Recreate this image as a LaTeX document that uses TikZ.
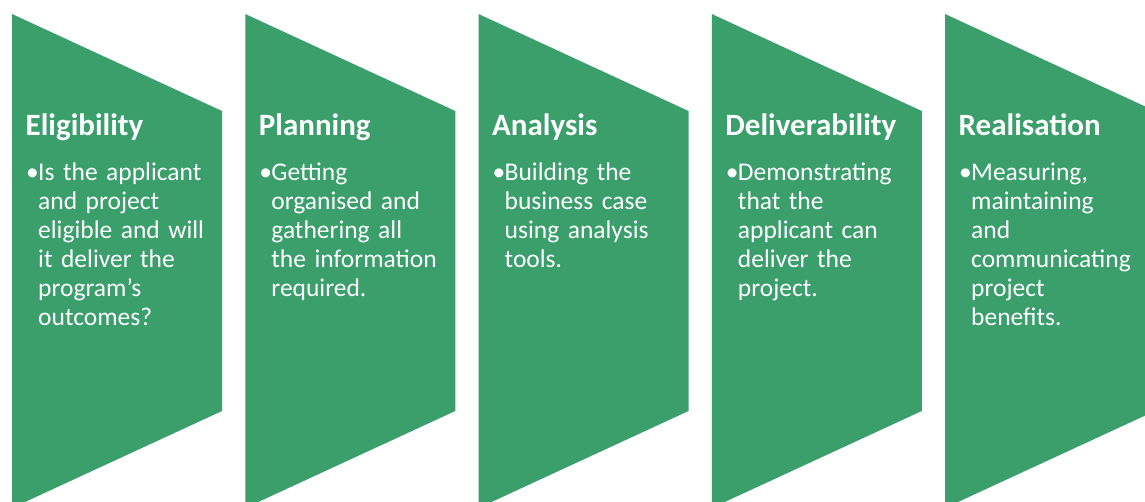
\documentclass[tikz,border=0pt]{standalone}
\usepackage{fontspec}
\setmainfont{Carlito}
\definecolor{stepgreen}{RGB}{58,159,107}
\begin{document}
\begin{tikzpicture}[x=1pt,y=1pt,
  chevron/.style={fill=stepgreen},
  steptitle/.style={anchor=base west,inner sep=0pt,text=white,font=\fontsize{31}{36}\selectfont\bfseries},
  stepbullet/.style={anchor=base west,inner sep=0pt,text=white,font=\fontsize{25.5}{29}\selectfont},
  stepbody/.style={anchor=base west,inner sep=0pt,text=white,text width=200pt,align=left,font=\fontsize{25.5}{29}\selectfont}]
\useasboundingbox (0,0) rectangle (1145,-502);
\clip (0,0) rectangle (1145,-502);
\foreach \i/\ttl/\bdy in {
  0/Eligibility/{Is the applicant\\and project\\eligible and will\\it deliver the\\program’s\\outcomes?},
  1/Planning/{Getting\\organised and\\gathering all\\the information\\required.},
  2/Analysis/{Building the\\business case\\using analysis\\tools.},
  3/Deliverability/{Demonstrating\\that the\\applicant can\\deliver the\\project.},
  4/Realisation/{Measuring,\\maintaining\\and\\communicating\\project\\benefits.}}{
  \pgfmathsetmacro{\xo}{12+233.25*\i}
  \fill[chevron] (\xo,-14) -- (\xo+210,-111) -- (\xo+210,-411) -- (\xo,-508) -- cycle;
  \node[steptitle] (t\i) at (\xo+13.5,-136) {\ttl};
  \node[stepbullet] (m\i) at (\xo+14,-181) {•};
  \node[stepbody] (b\i) at (\xo+26,-181) {\bdy};
}
\end{tikzpicture}
\end{document}
